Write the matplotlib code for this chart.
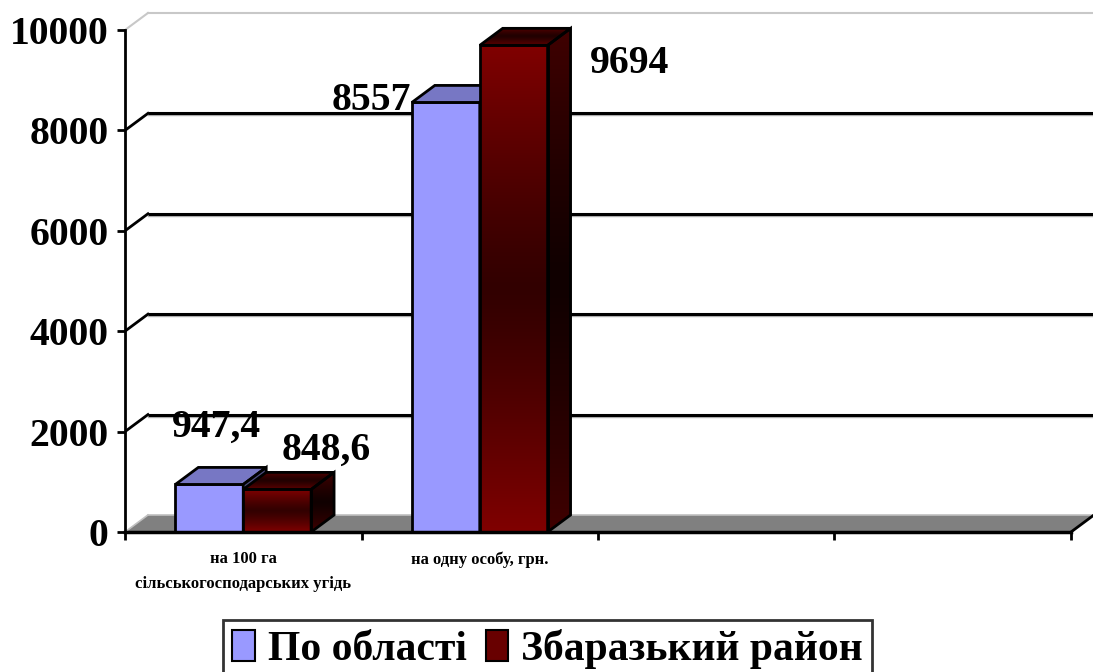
import numpy as np
import matplotlib
matplotlib.use("Agg")
import matplotlib.pyplot as plt
from matplotlib.patches import Polygon, Patch
from matplotlib.colors import to_rgb

plt.rcParams['font.family'] = ['Liberation Serif', 'DejaVu Serif']
plt.rcParams['font.weight'] = 'bold'

# data
categories = ["на 100 га\nсільськогосподарських угідь", "на одну особу, грн.", "", ""]
series_names = ["По області", "Збаразький район"]
oblast = [947.4, 8557]
zbarazh = [848.6, 9694]
value_labels = [["947,4", "8557"], ["848,6", "9694"]]
yticks = [0, 2000, 4000, 6000, 8000, 10000]

# pseudo-3D geometry (data units)
DX = 0.097
DY = 339
BW = 0.287
PX_PER_CAT = 236.5

fig = plt.figure(figsize=(10.93, 6.72), dpi=100)
ax = fig.add_axes([125 / 1093, 140 / 672, 968 / 1093, 532 / 672])
ncat = len(categories)
xmax = 968 / PX_PER_CAT
ymax = 532 / 502 * 10000
ax.set_xlim(0, xmax)
ax.set_ylim(0, ymax)
ax.patch.set_visible(False)


def gradient_face(verts, c_edge, c_mid, z):
    poly = Polygon(verts, closed=True, facecolor='none', edgecolor='black',
                   linewidth=2, zorder=z + 0.1, joinstyle='miter')
    ax.add_patch(poly)
    s = np.linspace(0, 1, 200)
    t = np.abs(2 * s - 1) ** 1.2
    e = np.array(to_rgb(c_edge))
    m = np.array(to_rgb(c_mid))
    img = m[None, :] + (e - m)[None, :] * t[:, None]
    img = img[:, None, :]
    xs = [v[0] for v in verts]
    ys = [v[1] for v in verts]
    im = ax.imshow(img, extent=[min(xs), max(xs), min(ys), max(ys)],
                   aspect='auto', origin='lower', zorder=z, interpolation='bilinear')
    clip = Polygon(verts, closed=True, transform=ax.transData, facecolor='none', edgecolor='none')
    ax.add_patch(clip)
    im.set_clip_path(clip)


def solid_face(verts, color, z):
    ax.add_patch(Polygon(verts, closed=True, facecolor=color, edgecolor='black',
                         linewidth=2, zorder=z, joinstyle='miter'))


# floor
floor = [(0, 0), (ncat, 0), (ncat + DX, DY), (DX, DY)]
ax.add_patch(Polygon(floor, closed=True, facecolor='#808080', edgecolor='none', zorder=1))
ax.plot([DX, ncat + DX], [DY, DY], color='#c0c0c0', lw=1.2, zorder=1.1)
ax.plot([ncat, ncat + DX], [0, DY], color='black', lw=2, zorder=1.2)
ax.plot([0, DX], [0, DY], color='#c0c0c0', lw=1.2, zorder=1.1)

# gridlines on the back wall
for v in yticks[1:-1]:
    ax.plot([0, DX], [v, v + DY], color='black', lw=2, zorder=1)
    ax.plot([DX, ncat + DX], [v + DY, v + DY], color='black', lw=2.2, zorder=1,
            solid_capstyle='butt', clip_on=False)
    ax.plot([DX, ncat + DX], [v + DY - 40, v + DY - 40], color='#b0b0b0', lw=1, zorder=0.9,
            clip_on=False)
top = yticks[-1]
ax.plot([0, DX], [top, top + DY], color='#c8c8c8', lw=1.5, zorder=1)
ax.plot([DX, ncat + DX], [top + DY, top + DY], color='#c8c8c8', lw=1.5, zorder=1, clip_on=False)

# bars
z = 3
for i in range(len(oblast)):
    center = i + 0.5
    for k, (vals, front) in enumerate([(oblast, 'blue'), (zbarazh, 'red')]):
        v = vals[i]
        x0 = center - BW + k * BW
        x1 = x0 + BW
        front_v = [(x0, 0), (x1, 0), (x1, v), (x0, v)]
        top_v = [(x0, v), (x1, v), (x1 + DX, v + DY), (x0 + DX, v + DY)]
        side_v = [(x1, 0), (x1 + DX, DY), (x1 + DX, v + DY), (x1, v)]
        if front == 'blue':
            ax.bar(x0, v, width=BW, align='edge', color='#9999ff', edgecolor='black',
                   linewidth=2, zorder=z)
            solid_face(top_v, '#7777c4', z)
            solid_face(side_v, '#4d4d80', z)
        else:
            ax.bar(x0, v, width=BW, align='edge', color='none', edgecolor='none', zorder=z)
            gradient_face(front_v, '#800000', '#320000', z)
            gradient_face(top_v, '#5a0000', '#200000', z)
            gradient_face(side_v, '#400000', '#100000', z)
        z += 1

# value labels (offsets in pixels from the front top-centre of each bar)
label_offsets = [[(7, 57), (-74, 2)], [(49, 39), (116, -18)]]
for k, vals in enumerate([oblast, zbarazh]):
    for i, v in enumerate(vals):
        xc = i + 0.5 - BW + k * BW + BW / 2
        ax.annotate(value_labels[k][i], (xc, v), xytext=label_offsets[k][i],
                    textcoords='offset pixels', ha='center', va='center',
                    fontsize=28.5, fontweight='bold', zorder=2, annotation_clip=False)

# axes
for s in ['top', 'right']:
    ax.spines[s].set_visible(False)
ax.spines['left'].set_bounds(0, 10000)
ax.spines['bottom'].set_bounds(0, ncat)
ax.spines['left'].set_linewidth(2)
ax.spines['bottom'].set_linewidth(2.5)
ax.spines['bottom'].set_zorder(20)
ax.set_yticks(yticks)
ax.set_yticklabels([str(t) for t in yticks], fontsize=28.5, fontweight='bold')
ax.tick_params(axis='y', length=6, width=2, pad=6)
ax.set_xticks(range(ncat + 1))
ax.set_xticklabels([''] * (ncat + 1))
ax.tick_params(axis='x', which='major', length=6, width=2)
ax.set_xticks([c + 0.5 for c in range(ncat)], minor=True)
ax.set_xticklabels(categories, minor=True, fontsize=12, fontweight='bold', linespacing=1.7)
ax.tick_params(axis='x', which='minor', length=0, pad=14)

handles = [Patch(facecolor='#9999ff', edgecolor='black', linewidth=1.5),
           Patch(facecolor='#680000', edgecolor='black', linewidth=1.5)]
leg = fig.legend(handles, series_names, loc='lower center', bbox_to_anchor=(0.501, -0.04),
                 ncol=2, frameon=True, fancybox=False, edgecolor='black',
                 prop={'size': 30, 'weight': 'bold'}, handlelength=0.55, handleheight=0.75,
                 handletextpad=0.3, columnspacing=0.45, borderpad=0.22)
leg.get_frame().set_linewidth(2)

fig.savefig('out.png', dpi=100)
